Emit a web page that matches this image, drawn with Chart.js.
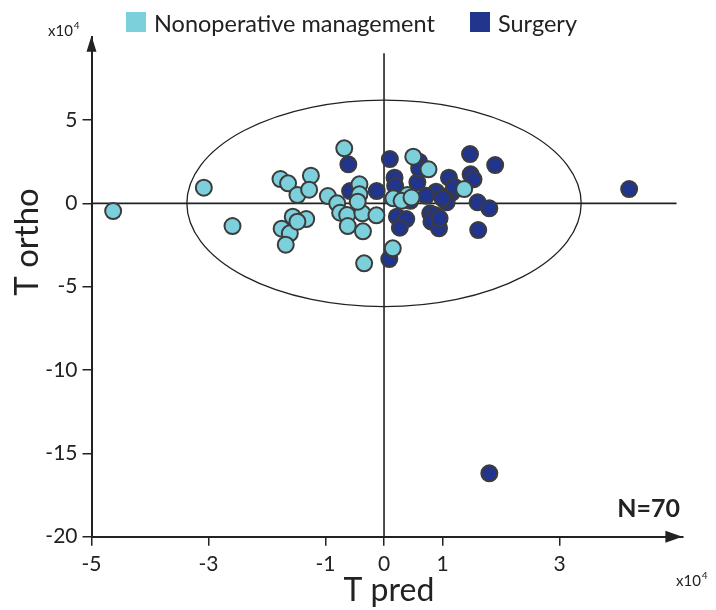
<!DOCTYPE html>
<html>
<head>
<meta charset="utf-8">
<script src="https://cdn.jsdelivr.net/npm/chart.js@4.4.0/dist/chart.umd.min.js"></script>
<style>
  html, body { margin: 0; padding: 0; background: #fff; }
</style>
</head>
<body>
<canvas id="scoreChart" width="716" height="610"></canvas>
<script>
// OPLS-DA score plot: predictive vs orthogonal component (x10^4)
const GROUPS = ['Nonoperative management', 'Surgery'];
const GROUP_COLORS = ['#7bd0dc', '#22358d'];

const NONOP_X = [-4.63, -3.08, -2.59, -1.77, -1.64, -1.25, -1.48, -1.28, -0.96, -0.80,
                 -0.75, -0.63, -0.68, -0.42, -0.42, -0.37, -0.13, -0.62, -0.36, -0.34,
                 -1.56, -1.33, -1.75, -1.61, -1.68, -1.48, 0.16, 0.40, 0.50, 0.76,
                 1.37, 0.15, 0.30, 0.47, -0.45];
const NONOP_Y = [-0.46, 0.94, -1.36, 1.46, 1.20, 1.66, 0.50, 0.82, 0.44, 0.00,
                 -0.56, -0.70, 3.30, 1.14, 0.54, -0.60, -0.72, -1.36, -1.68, -3.60,
                 -0.80, -0.94, -1.52, -1.80, -2.48, -1.10, 0.30, 0.50, 2.80, 2.04,
                 0.86, -2.70, 0.15, 0.35, 0.10];

const SURG_X = [-0.61, -0.58, -0.125, 0.10, 0.18, 0.19, 0.60, 0.57, 1.11, 1.47,
                1.48, 1.53, 1.90, 0.89, 1.16, 1.07, 1.60, 1.80, 0.22, 0.38,
                0.27, 0.79, 0.87, 0.81, 0.94, 1.61, 0.09, 4.19, 1.80, 0.60,
                1.00, 0.45, 0.95, 1.20, 0.72];
const SURG_Y = [2.34, 0.74, 0.74, 2.66, 1.54, 1.04, 2.50, 1.26, 1.54, 2.96,
                1.74, 1.44, 2.30, 0.70, 0.64, 0.06, 0.06, -0.30, -0.80, -0.94,
                -1.46, -0.60, -0.70, -1.10, -1.50, -1.60, -3.34, 0.86, -16.2, 2.10,
                0.30, 0.15, -0.90, 1.00, 0.45];

const X_TICKS = [-5, -3, -1, 0, 1, 3];
const Y_TICKS = [5, 0, -5, -10, -15, -20];

// Hotelling T2 ellipse half-axes, in plot units
const ELLIPSE_RX = 3.37;
const ELLIPSE_RY = 6.2;

const SAMPLE_COUNT = NONOP_X.length + SURG_X.length;

const INK = '#222222';
const FONT = 'Lato, "Open Sans", sans-serif';

function toPoints(xs, ys) {
    return xs.map((x, i) => ({ x: x, y: ys[i] }));
}

function drawArrow(ctx, tipX, tipY, dir) {
    ctx.beginPath();
    if (dir === 'up') {
        ctx.moveTo(tipX, tipY);
        ctx.lineTo(tipX - 5, tipY + 16);
        ctx.lineTo(tipX + 5, tipY + 16);
    } else {
        ctx.moveTo(tipX, tipY);
        ctx.lineTo(tipX - 17, tipY - 6);
        ctx.lineTo(tipX - 17, tipY + 6);
    }
    ctx.closePath();
    ctx.fill();
}

function drawPower(ctx, x, y) {
    ctx.font = '15px ' + FONT;
    ctx.textAlign = 'left';
    ctx.textBaseline = 'alphabetic';
    ctx.fillText('x10', x, y);
    const w = ctx.measureText('x10').width;
    ctx.font = '10px ' + FONT;
    ctx.fillText('4', x + w + 1, y - 7);
}

const decorPlugin = {
    id: 'decor',
    beforeDatasetsDraw(chart) {
        const ctx = chart.ctx;
        const xs = chart.scales.x;
        const ys = chart.scales.y;
        const x0 = xs.getPixelForValue(0);
        const y0 = ys.getPixelForValue(0);
        ctx.save();
        ctx.strokeStyle = INK;

        // crosshair through the origin
        ctx.lineWidth = 1.6;
        ctx.beginPath();
        ctx.moveTo(x0, ys.getPixelForValue(9));
        ctx.lineTo(x0, ys.getPixelForValue(-20));
        ctx.moveTo(xs.getPixelForValue(-5), y0);
        ctx.lineTo(xs.getPixelForValue(5), y0);
        ctx.stroke();

        // confidence ellipse
        const rx = xs.getPixelForValue(ELLIPSE_RX) - x0;
        const ry = y0 - ys.getPixelForValue(ELLIPSE_RY);
        ctx.lineWidth = 1.3;
        ctx.beginPath();
        ctx.ellipse(x0, y0, rx, ry, 0, 0, Math.PI * 2);
        ctx.stroke();
        ctx.restore();
    },
    afterDraw(chart) {
        const ctx = chart.ctx;
        const area = chart.chartArea;
        ctx.save();
        ctx.fillStyle = INK;

        // axis arrow heads
        drawArrow(ctx, area.left, area.top - 1, 'up');
        drawArrow(ctx, area.right, area.bottom, 'right');

        // axis titles
        ctx.font = '32px ' + FONT;
        ctx.textAlign = 'center';
        ctx.textBaseline = 'middle';
        ctx.fillText('T pred', (area.left + area.right) / 2 + 2, 591);
        ctx.save();
        ctx.translate(27, 242);
        ctx.rotate(-Math.PI / 2);
        ctx.font = '33px ' + FONT;
        ctx.fillText('T ortho', 0, 0);
        ctx.restore();

        // unit multipliers
        drawPower(ctx, 48, 36);
        drawPower(ctx, 676, 586);

        // sample count
        ctx.font = 'bold 25px ' + FONT;
        ctx.textAlign = 'right';
        ctx.textBaseline = 'alphabetic';
        ctx.fillText('N=' + SAMPLE_COUNT, 680, 517);

        // legend
        const legendX = [126, 470];
        ctx.font = '23.5px ' + FONT;
        ctx.textAlign = 'left';
        ctx.textBaseline = 'middle';
        GROUPS.forEach((name, i) => {
            ctx.fillStyle = GROUP_COLORS[i];
            ctx.fillRect(legendX[i], 12, 20, 20);
            ctx.fillStyle = INK;
            ctx.fillText(name, legendX[i] + 28, 24);
        });
        ctx.restore();
    }
};

const ctx = document.getElementById('scoreChart').getContext('2d');

new Chart(ctx, {
    type: 'scatter',
    data: {
        datasets: [
            {
                label: GROUPS[0],
                data: toPoints(NONOP_X, NONOP_Y),
                backgroundColor: GROUP_COLORS[0],
                borderColor: '#3c3c3c',
                borderWidth: 2,
                pointRadius: 8,
                order: 0
            },
            {
                label: GROUPS[1],
                data: toPoints(SURG_X, SURG_Y),
                backgroundColor: GROUP_COLORS[1],
                borderColor: '#3c3c3c',
                borderWidth: 2,
                pointRadius: 8,
                order: 1
            }
        ]
    },
    options: {
        responsive: false,
        animation: false,
        events: [],
        layout: {
            padding: { top: 36.7, right: 33.6, left: 0, bottom: 0 }
        },
        plugins: {
            legend: { display: false },
            tooltip: { enabled: false }
        },
        scales: {
            x: {
                type: 'linear',
                min: -5,
                max: 5.1,
                afterFit: function(scale) { scale.height = 73.3; },
                afterBuildTicks: function(scale) {
                    scale.ticks = X_TICKS.map(v => ({ value: v }));
                },
                grid: {
                    drawOnChartArea: false,
                    tickLength: 9,
                    color: INK,
                    lineWidth: 1.5
                },
                border: { display: true, color: INK, width: 2 },
                ticks: {
                    color: INK,
                    padding: 6,
                    autoSkip: false,
                    maxRotation: 0,
                    font: { family: FONT, size: 21 }
                }
            },
            y: {
                type: 'linear',
                min: -20,
                max: 10,
                afterFit: function(scale) { scale.width = 91.5; },
                afterBuildTicks: function(scale) {
                    scale.ticks = Y_TICKS.map(v => ({ value: v }));
                },
                grid: {
                    drawOnChartArea: false,
                    tickLength: 9,
                    color: INK,
                    lineWidth: 1.5
                },
                border: { display: true, color: INK, width: 2 },
                ticks: {
                    color: INK,
                    padding: 5,
                    autoSkip: false,
                    font: { family: FONT, size: 21 }
                }
            }
        }
    },
    plugins: [decorPlugin]
});
</script>
</body>
</html>
